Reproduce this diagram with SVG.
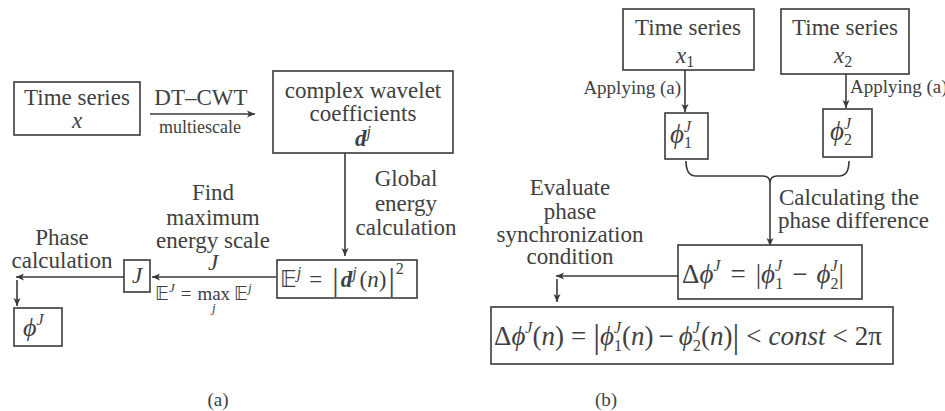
<svg xmlns="http://www.w3.org/2000/svg" width="945" height="411" viewBox="0 0 945 411" font-size="23">
<style>
text{font-family:"Liberation Serif","DejaVu Serif",serif;fill:#404040}
.c{text-anchor:middle}
.e{text-anchor:end}
.i{font-style:italic}
.b{font-weight:bold;font-style:italic}
.s{font-size:16px}
.box{fill:#fff;stroke:#3a3a3a;stroke-width:1.6}
.ln{fill:none;stroke:#3a3a3a;stroke-width:1.6}
.bb{font-family:"DejaVu Sans","DejaVu Serif",serif}
</style>
<defs>
<marker id="ah" markerWidth="9" markerHeight="8" refX="8" refY="4" orient="auto" markerUnits="userSpaceOnUse">
<path d="M0,0.5 L8,4 L0,7.5 L2,4 Z" fill="#3a3a3a"/>
</marker>
</defs>
<rect width="945" height="411" fill="#fff"/>

<g id="connectors">
<line class="ln" x1="150" y1="114" x2="255" y2="114" marker-end="url(#ah)"/>
<line class="ln" x1="345" y1="153" x2="345" y2="256" marker-end="url(#ah)"/>
<line class="ln" x1="276" y1="277" x2="152" y2="277" marker-end="url(#ah)"/>
<line class="ln" x1="124" y1="277" x2="16" y2="277" marker-end="url(#ah)"/>
<line class="ln" x1="17" y1="280" x2="17" y2="306" marker-end="url(#ah)"/>
<line class="ln" x1="685" y1="70" x2="685" y2="112" marker-end="url(#ah)"/>
<line class="ln" x1="846" y1="74" x2="846" y2="108" marker-end="url(#ah)"/>
<path class="ln" d="M686,161 Q686,176 696,176 L763,176 Q770,176 770,183 Q770,176 777,176 L839,176 Q849,176 849,161"/>
<line class="ln" x1="770" y1="183" x2="770" y2="246" marker-end="url(#ah)"/>
<line class="ln" x1="678" y1="276" x2="556" y2="276" marker-end="url(#ah)"/>
<line class="ln" x1="557" y1="279" x2="557" y2="302" marker-end="url(#ah)"/>
</g>

<g id="labels">
<text class="c" x="201" y="105">DT–CWT</text>
<text class="c" x="200" y="133" font-size="18">multiescale</text>
<text class="c" x="406" y="186">Global</text>
<text class="c" x="406" y="211">energy</text>
<text class="c" x="406" y="235">calculation</text>
<text class="c" x="213" y="200">Find</text>
<text class="c" x="213" y="225">maximum</text>
<text class="c" x="213" y="248">energy scale</text>
<text class="c i" x="213" y="270">J</text>
<text x="155" y="300" font-size="19"><tspan class="bb">𝔼</tspan><tspan class="i" font-size="13" dy="-8">J</tspan><tspan dy="8" dx="6">=</tspan><tspan dx="6">max</tspan><tspan class="bb" dx="4">𝔼</tspan><tspan class="i" font-size="13" dy="-8">j</tspan></text>
<text class="i" x="212" y="312" font-size="13">j</text>
<text class="c" x="62" y="245">Phase</text>
<text class="c" x="62" y="268">calculation</text>
<text class="e" x="681" y="94" font-size="19">Applying (a)</text>
<text x="850" y="93" font-size="19">Applying (a)</text>
<text x="779" y="205">Calculating the</text>
<text x="778" y="228">phase difference</text>
<text class="c" x="570" y="195">Evaluate</text>
<text class="c" x="570" y="219">phase</text>
<text class="c" x="570" y="242">synchronization</text>
<text class="c" x="570" y="264">condition</text>
<text class="c" x="218" y="406" font-size="19">(a)</text>
<text class="c" x="606" y="406" font-size="19">(b)</text>
</g>

<g id="ts_x">
<rect class="box" x="14" y="82" width="126" height="53"/>
<text class="c" x="77" y="105">Time series</text>
<text class="c i" x="77" y="128">x</text>
</g>

<g id="cwc">
<rect class="box" x="273" y="71" width="180" height="82"/>
<text class="c" x="363" y="98">complex wavelet</text>
<text class="c" x="363" y="121">coefficients</text>
<text x="355" y="146"><tspan class="b">d</tspan><tspan class="i s" dy="-9">j</tspan></text>
</g>

<g id="energy">
<rect class="box" x="277" y="260" width="140" height="38"/>
<text x="280" y="287"><tspan class="bb">𝔼</tspan><tspan class="i s" dy="-9">j</tspan><tspan dy="9" dx="8">=</tspan><tspan font-size="32" dx="10" dy="3">|</tspan><tspan class="b" dy="-3" dx="2">d</tspan><tspan class="i s" dy="-9">j</tspan><tspan dy="9" dx="3">(</tspan><tspan class="i">n</tspan><tspan>)</tspan><tspan font-size="32" dy="3" dx="2">|</tspan><tspan class="s" dy="-16" dx="1">2</tspan></text>
</g>

<g id="J">
<rect class="box" x="124" y="260" width="26" height="32"/>
<text class="c i" x="137" y="283">J</text>
</g>

<g id="phiJ">
<rect class="box" x="14" y="308" width="48" height="38"/>
<text x="23" y="336" font-size="26"><tspan class="i">ϕ</tspan><tspan class="i s" dy="-11">J</tspan></text>
</g>

<g id="ts_x1">
<rect class="box" x="623" y="9" width="131" height="61"/>
<text class="c" x="688" y="35">Time series</text>
<text x="676" y="63"><tspan class="i">x</tspan><tspan class="s" dy="4">1</tspan></text>
</g>

<g id="ts_x2">
<rect class="box" x="781" y="9" width="128" height="65"/>
<text class="c" x="845" y="35">Time series</text>
<text x="834" y="63"><tspan class="i">x</tspan><tspan class="s" dy="4">2</tspan></text>
</g>

<g id="phi1">
<rect class="box" x="665" y="113" width="43" height="46"/>
<text x="670" y="143" font-size="27"><tspan class="i">ϕ</tspan><tspan class="i s" dy="-11">J</tspan><tspan class="s" dx="-7" dy="16">1</tspan></text>
</g>

<g id="phi2">
<rect class="box" x="823" y="109" width="49" height="48"/>
<text x="830" y="140" font-size="27"><tspan class="i">ϕ</tspan><tspan class="i s" dy="-11">J</tspan><tspan class="s" dx="-7" dy="16">2</tspan></text>
</g>

<g id="dphi">
<rect class="box" x="678" y="245" width="184" height="54"/>
<text x="682" y="283" font-size="27">Δ<tspan class="i">ϕ</tspan><tspan class="i s" dy="-12">J</tspan><tspan dy="12" dx="10">=</tspan><tspan dx="10">|</tspan><tspan class="i">ϕ</tspan><tspan class="i s" dy="-12">J</tspan><tspan class="s" dx="-7" dy="18">1</tspan><tspan dy="-6" dx="9">−</tspan><tspan class="i" dx="9">ϕ</tspan><tspan class="i s" dy="-12">J</tspan><tspan class="s" dx="-7" dy="18">2</tspan><tspan dy="-6">|</tspan></text>
</g>

<g id="cond">
<rect class="box" x="491" y="307" width="402" height="57"/>
<text x="494" y="345" font-size="27">Δ<tspan class="i">ϕ</tspan><tspan class="i s" dy="-12">J</tspan><tspan dy="12">(</tspan><tspan class="i">n</tspan><tspan>)</tspan><tspan dx="7">=</tspan><tspan dx="7" font-size="34" dy="3">|</tspan><tspan class="i" dy="-3">ϕ</tspan><tspan class="i s" dy="-12">J</tspan><tspan class="s" dx="-7" dy="18">1</tspan><tspan dy="-6">(</tspan><tspan class="i">n</tspan><tspan>)</tspan><tspan dx="5">−</tspan><tspan class="i" dx="5">ϕ</tspan><tspan class="i s" dy="-12">J</tspan><tspan class="s" dx="-7" dy="18">2</tspan><tspan dy="-6">(</tspan><tspan class="i">n</tspan><tspan>)</tspan><tspan font-size="34" dy="3">|</tspan><tspan dy="-3" dx="7">&lt;</tspan><tspan class="i" dx="7">const</tspan><tspan dx="7">&lt;</tspan><tspan dx="7">2π</tspan></text>
</g>
</svg>
